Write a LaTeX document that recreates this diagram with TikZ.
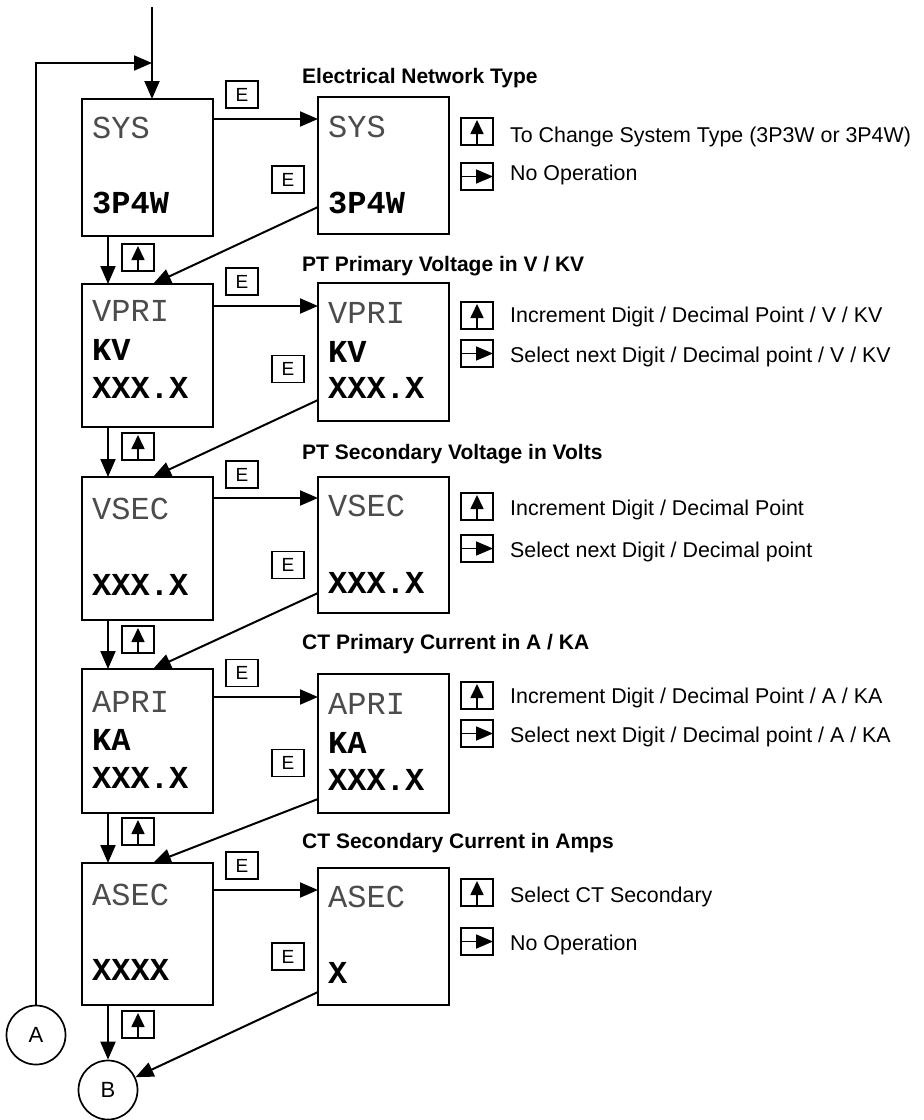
\documentclass[tikz,border=0pt]{standalone}
\usepackage{fontspec}
\setmainfont{Liberation Sans}
\setmonofont{Liberation Mono}
\usetikzlibrary{arrows.meta,calc}
\tikzset{
  arr/.style={-{Triangle[length=18pt,width=15pt]}, line width=2pt},
  disp/.style={draw, line width=2.3pt, minimum width=131pt, anchor=north west, inner sep=0pt, outer sep=0pt},
  keybox/.style={draw, line width=1.9pt, minimum width=32pt, minimum height=27pt, inner sep=0pt, outer sep=0pt, anchor=north west},
  ekey/.style={draw, line width=1.9pt, minimum width=32pt, minimum height=27pt, inner sep=0pt, font=\fontsize{19}{19}\selectfont},
  lcd/.style={anchor=base west, inner sep=0pt, text=black!70, font=\fontsize{32}{32}\ttfamily},
  lcdb/.style={anchor=base west, inner sep=0pt, font=\fontsize{32}{32}\ttfamily\bfseries},
  ttl/.style={anchor=base west, inner sep=0pt, font=\fontsize{21}{21}\selectfont\bfseries},
  desc/.style={anchor=base west, inner sep=0pt, font=\fontsize{21.4}{21.4}\selectfont},
  circ/.style={draw, circle, line width=1.7pt, minimum size=59pt, inner sep=0pt, font=\fontsize{22}{22}\selectfont},
  upkey/.pic={\node[keybox] (-b) at (0,0) {};
    \draw[-{Triangle[length=14pt,width=13pt]}, line width=1.7pt] (-b.south) -- ([yshift=-2pt]-b.north);},
  rightkey/.pic={\node[keybox] (-b) at (0,0) {};
    \draw[-{Triangle[length=17pt,width=14pt]}, line width=1.7pt] (-b.west) -- (-b.east);}
}
\begin{document}
\begin{tikzpicture}[x=1pt,y=-1pt]
\useasboundingbox[fill=white] (0,0) rectangle (924,1120);

% display boxes, left column
\node[disp, minimum height=137pt] (L1) at (82,99) {};
\node[disp, minimum height=143pt] (L2) at (82,284) {};
\node[disp, minimum height=143pt] (L3) at (82,477) {};
\node[disp, minimum height=144pt] (L4) at (82,669) {};
\node[disp, minimum height=142pt] (L5) at (82,863) {};
% right column
\node[disp, minimum height=137pt] (R1) at (318,97) {};
\node[disp, minimum height=138pt] (R2) at (318,283) {};
\node[disp, minimum height=136pt] (R3) at (318,477) {};
\node[disp, minimum height=139pt] (R4) at (318,674) {};
\node[disp, minimum height=137pt] (R5) at (318,868) {};

% display texts
\node[lcd]  (l1a) at (92,138) {SYS};
\node[lcdb] (l1b) at (92,213) {3P4W};
\node[lcd]  (r1a) at (328,137) {SYS};
\node[lcdb] (r1b) at (328,213) {3P4W};

\node[lcd]  (l2a) at (92,321) {VPRI};
\node[lcdb] (l2b) at (92,360) {KV};
\node[lcdb] (l2c) at (92,398) {XXX.X};
\node[lcd]  (r2a) at (328,323) {VPRI};
\node[lcdb] (r2b) at (328,362) {KV};
\node[lcdb] (r2c) at (328,398) {XXX.X};

\node[lcd]  (l3a) at (92,519) {VSEC};
\node[lcdb] (l3b) at (92,595) {XXX.X};
\node[lcd]  (r3a) at (328,516) {VSEC};
\node[lcdb] (r3b) at (328,593) {XXX.X};

\node[lcd]  (l4a) at (92,712) {APRI};
\node[lcdb] (l4b) at (92,750) {KA};
\node[lcdb] (l4c) at (92,788) {XXX.X};
\node[lcd]  (r4a) at (328,714) {APRI};
\node[lcdb] (r4b) at (328,753) {KA};
\node[lcdb] (r4c) at (328,790) {XXX.X};

\node[lcd]  (l5a) at (92,905) {ASEC};
\node[lcdb] (l5b) at (92,980) {XXXX};
\node[lcd]  (r5a) at (328,907) {ASEC};
\node[lcdb] (r5b) at (328,983) {X};

% E keys
\node[ekey] (e1u) at (242,94.5) {E};
\node[ekey] (e2u) at (242,281.5) {E};
\node[ekey] (e3u) at (242,474.5) {E};
\node[ekey] (e4u) at (242,673) {E};
\node[ekey] (e5u) at (242,865.5) {E};
\node[ekey] (e1l) at (288,179.5) {E};
\node[ekey] (e2l) at (288,369) {E};
\node[ekey] (e3l) at (288,565) {E};
\node[ekey] (e4l) at (288,763) {E};
\node[ekey] (e5l) at (288,956.5) {E};

% up keys between left boxes
\pic (k1) at (122,244) {upkey};
\pic (k2) at (122,433) {upkey};
\pic (k3) at (122,626) {upkey};
\pic (k4) at (122,818) {upkey};
\pic (k5) at (122,1011) {upkey};

% circles
\node[circ] (A) at (36,1035) {A};
\node[circ] (B) at (108,1090) {B};

% helper coordinates
\coordinate (top) at (152,7);
\coordinate (loop) at (36,63);
\coordinate (vx) at (108,0);
\coordinate (dx) at (153,0);
\coordinate (h1) at (0,119);
\coordinate (h2) at (0,306);
\coordinate (h3) at (0,498);
\coordinate (h4) at (0,697);
\coordinate (h5) at (0,890);
\coordinate (d1) at (0,207);
\coordinate (d2) at (0,400);
\coordinate (d3) at (0,593);
\coordinate (d4) at (0,799);
\coordinate (d5) at (0,992);

% entry and loop
\draw[arr] (top) -- (L1.north -| top);
\draw[arr] (A.north) -- (loop) -- (loop -| top);

% horizontal E arrows
\draw[arr] (L1.east |- h1) -- (R1.west |- h1);
\draw[arr] (L2.east |- h2) -- (R2.west |- h2);
\draw[arr] (L3.east |- h3) -- (R3.west |- h3);
\draw[arr] (L4.east |- h4) -- (R4.west |- h4);
\draw[arr] (L5.east |- h5) -- (R5.west |- h5);

% vertical down arrows
\draw[arr] (L1.south -| vx) -- (L2.north -| vx);
\draw[arr] (L2.south -| vx) -- (L3.north -| vx);
\draw[arr] (L3.south -| vx) -- (L4.north -| vx);
\draw[arr] (L4.south -| vx) -- (L5.north -| vx);
\draw[arr] (L5.south -| vx) -- (B.north);

% diagonal return arrows
\draw[arr] (R1.west |- d1) -- (L2.north -| dx);
\draw[arr] (R2.west |- d2) -- (L3.north -| dx);
\draw[arr] (R3.west |- d3) -- (L4.north -| dx);
\draw[arr] (R4.west |- d4) -- (L5.north -| dx);
\draw[arr] (R5.west |- d5) -- (B);

% titles
\node[ttl] (t1) at (302,83) {Electrical Network Type};
\node[ttl] (t2) at (302,271) {PT Primary Voltage in V / KV};
\node[ttl] (t3) at (302,459) {PT Secondary Voltage in Volts};
\node[ttl] (t4) at (302,649) {CT Primary Current in A / KA};
\node[ttl] (t5) at (302,848) {CT Secondary Current in Amps};

% legends
\pic (lu1) at (461,118) {upkey};
\pic (lr1) at (461,163) {rightkey};
\node[desc] (g1a) at (510,142) {To Change System Type (3P3W or 3P4W)};
\node[desc] (g1b) at (510,180) {No Operation};

\pic (lu2) at (461,302) {upkey};
\pic (lr2) at (461,340) {rightkey};
\node[desc] (g2a) at (510,322) {Increment Digit / Decimal Point / V / KV};
\node[desc] (g2b) at (510,362) {Select next Digit / Decimal point / V / KV};

\pic (lu3) at (461,493) {upkey};
\pic (lr3) at (461,535) {rightkey};
\node[desc] (g3a) at (510,515) {Increment Digit / Decimal Point};
\node[desc] (g3b) at (510,557) {Select next Digit / Decimal point};

\pic (lu4) at (461,682) {upkey};
\pic (lr4) at (461,720) {rightkey};
\node[desc] (g4a) at (510,703) {Increment Digit / Decimal Point / A / KA};
\node[desc] (g4b) at (510,742) {Select next Digit / Decimal point / A / KA};

\pic (lu5) at (461,879) {upkey};
\pic (lr5) at (461,928) {rightkey};
\node[desc] (g5a) at (510,902) {Select CT Secondary};
\node[desc] (g5b) at (510,950) {No Operation};
\end{tikzpicture}
\end{document}
